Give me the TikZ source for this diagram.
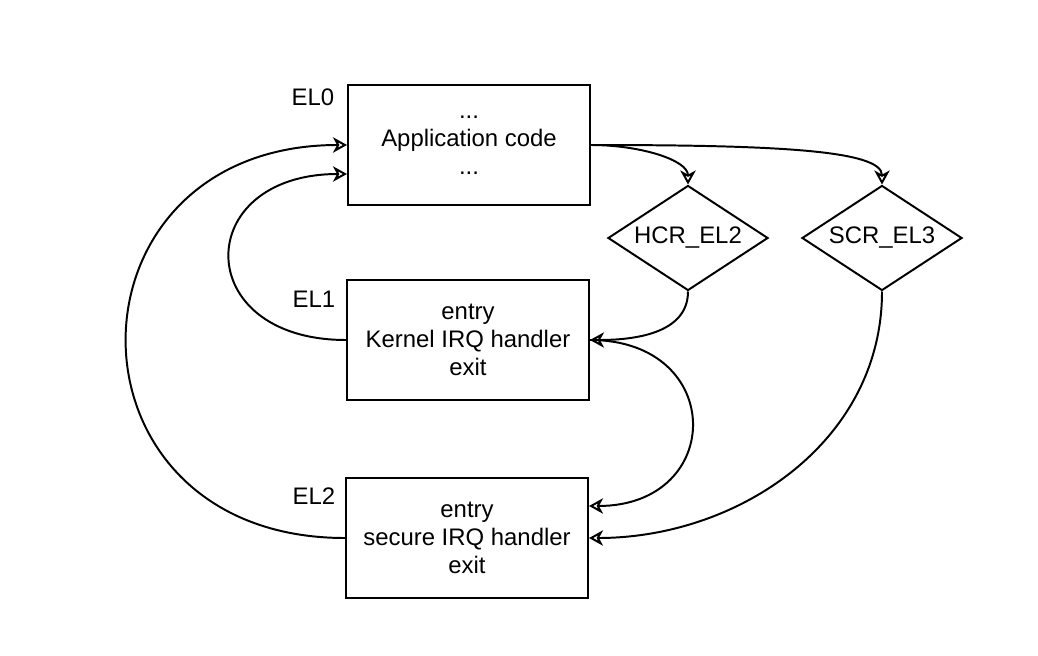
\documentclass[tikz,border=0pt]{standalone}
\usepackage{fontspec}
\setmainfont{Liberation Sans}
\usetikzlibrary{arrows.meta,shapes.geometric}

\begin{document}
\begin{tikzpicture}[x=0.025cm,y=-0.025cm,
    every node/.style={font=\fontsize{17}{20}\selectfont},
    block/.style={draw,line width=1.4pt,minimum width=6.05cm,minimum height=3cm,align=center},
    check/.style={draw,diamond,line width=1.4pt,inner sep=0pt,shape aspect=1.6,minimum width=4cm,minimum height=2.625cm},
    flow/.style={line width=1.4pt,-{Stealth[open,length=10pt,width=11pt,inset=3pt]}}]
    \useasboundingbox (0,0) rectangle (1038,656);
    \node[block] (app) at (469,145) {...\\Application code\\...};
    \node[block] (kern) at (468,340) {entry\\Kernel IRQ handler\\exit};
    \node[block] (sec) at (467,538) {entry\\secure IRQ handler\\exit};
    \node[check] (hcr) at (688,238) {HCR\_EL2};
    \node[check] (scr) at (882,238) {SCR\_EL3};
    \node (l0) at (313,97) {EL0};
    \node (l1) at (314,299) {EL1};
    \node (l2) at (314,496) {EL2};
    \draw[flow] (app.east) to [out=0,in=90,out looseness=1.2,in looseness=0.6] (hcr.north);
    \draw[flow] (app.east) to [out=0,in=90,out looseness=1.6,in looseness=0.3] (scr.north);
    \draw[flow] (hcr.south) to [out=-90,in=0] (kern.east);
    \draw[flow] (scr.south) to [out=-90,in=0] (sec.east);
    \draw[flow] (kern.east) to [out=0,in=0,looseness=2.1] ([yshift=0.8cm]sec.east);
    \draw[flow] (kern.west) to [out=180,in=180,looseness=2.4] ([yshift=-0.725cm]app.west);
    \draw[flow] (sec.west) to [out=180,in=180,looseness=1.9] (app.west);
\end{tikzpicture}
\end{document}
